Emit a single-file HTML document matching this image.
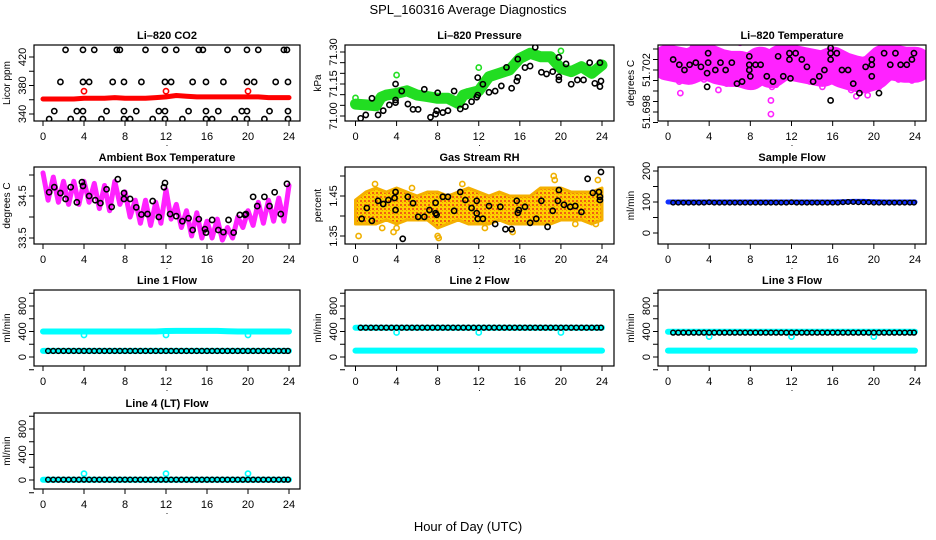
<!DOCTYPE html>
<html><head><meta charset="utf-8"><title>SPL_160316 Average Diagnostics</title>
<style>
html,body{margin:0;padding:0;background:#fff;}
svg{display:block;font-family:"Liberation Sans",Arial,sans-serif;}
</style></head>
<body>
<svg id="chart" width="936" height="540" viewBox="0 0 936 540" xmlns="http://www.w3.org/2000/svg">
<defs>
<pattern id="rhPat" width="4" height="4" patternUnits="userSpaceOnUse">
<rect width="4" height="4" fill="#ffd000"/>
<rect x="0" y="0" width="2" height="2" fill="#f06010"/>
<rect x="2" y="2" width="1" height="1" fill="#f0a000"/>
</pattern>
</defs>
<text x="468" y="14" text-anchor="middle" font-size="13">SPL_160316  Average Diagnostics</text>
<text x="468" y="531" text-anchor="middle" font-size="13">Hour of Day (UTC)</text>
</svg>
<script>
// ---------- data ----------
const xTicks=[0,4,8,12,16,20,24];
// CO2
const co2BandX=[0,1,2,3,4,5,6,7,8,9,10,11,12,13,14,15,16,17,18,19,20,21,22,23,24];
const co2BandY=[361,361,361,361,362,362,362,363,362,362,362,363,364,366,365,364,364,364,364,364,364,364,363,363,363];
const co2RedX=[4,12,20];
const co2RedY=[372,372,372];
const co2BlkX=[2.2,3.9,5,7.2,7.5,10,11.9,13,15.2,15.6,18,19.9,21,23.5,23.8,
1.7,3.9,4.5,6.8,7.9,9.6,11.9,12.5,14.6,15.9,17.6,19.9,20.6,22.7,23.9,
1.1,3.3,3.9,6.2,7.9,9.1,11.3,11.9,14.2,15.9,17.1,19.4,19.9,22.1,23.9,
0.6,2.7,3.9,5.7,7.9,8.5,10.7,11.9,13.6,15.9,16.5,18.7,19.9,21.6,23.9];
const co2BlkY=[430,430,430,430,430,430,430,430,430,430,430,430,430,430,430,
385,385,385,385,385,385,385,385,385,385,385,385,385,385,385,
344,344,344,344,344,344,344,344,344,344,344,344,344,344,344,
333,333,333,333,333,333,333,333,333,333,333,333,333,333,333];
// Pressure
const prGreenX=[0,1,2,2.5,3,4,5,6,7,8,9,10,10.5,11,12,13,14,15,16,17,18,19,20,21,22,23,24];
const prGreenY=[71.056,71.052,71.048,71.088,71.098,71.106,71.118,71.098,71.091,71.083,71.083,71.059,71.098,71.106,71.118,71.184,71.200,71.216,71.270,71.294,71.278,71.278,71.223,71.208,71.231,71.200,71.239];
const prGreenOutX=[0,4,12,20];
const prGreenOutY=[71.085,71.192,71.227,71.305];
const prBlkX=[0.5,1,1.6,2.2,2.7,3.3,3.9,3.9,3.9,4.5,5.1,5.6,6.1,6.7,7.3,7.8,7.9,8,8.5,9,9.6,10.2,10.7,11.3,11.8,11.9,11.9,12.4,13,13.6,14.2,14.7,15.2,15.7,15.8,15.8,16.5,17,17.5,18.1,18.6,19.2,19.8,19.8,19.8,20.5,21,21.6,22.2,22.8,23.3,23.8,23.9,23.8];
const prBlkY=[70.989,71.005,71.083,71.005,71.025,71.052,71.063,71.075,71.150,71.117,71.056,71.031,71.031,71.125,70.994,71.009,71.025,71.109,71.016,71.025,71.117,71.033,71.044,71.067,71.088,71.098,71.180,71.149,71.111,71.117,71.141,71.228,71.130,71.164,71.181,71.267,71.227,71.234,71.322,71.205,71.197,71.208,71.169,71.184,71.275,71.244,71.149,71.169,71.169,71.250,71.153,71.138,71.164,71.250];
// Li-820 temperature
const tmBandX=[0,1,2,3,4,5,6,7,8,9,10,11,12,13,14,15,16,17,18,19,20,21,22,23,24];
const tmBandY=[51.7027,51.7025,51.7023,51.7027,51.7027,51.7023,51.7021,51.7021,51.7018,51.7025,51.7020,51.7027,51.7027,51.7025,51.7023,51.7021,51.7025,51.7020,51.7017,51.7015,51.7018,51.7027,51.7027,51.7025,51.7025];
const tmPinkX=[0.2,1.1,1.2,2.4,3.5,4.4,4.9,5.7,7.0,8.2,8.9,9.5,10.0,10.0,10.1,10.5,12.0,13.8,14.4,15.0,16.2,17.0,17.8,18.3,19.0,19.4,20.5,22.4,23.7];
const tmPinkY=[51.7046,51.7009,51.6998,51.7041,51.7011,51.7046,51.7001,51.7007,51.7046,51.7007,51.7011,51.7015,51.6991,51.6978,51.7004,51.7006,51.7046,51.7009,51.7011,51.7004,51.7014,51.7011,51.7001,51.6995,51.7001,51.6996,51.7004,51.7011,51.7010];
const tmBlkX=[0.5,1.1,1.6,2.1,2.7,3.2,3.8,3.8,3.9,3.9,4.6,5.1,5.6,6.2,6.7,7.2,7.9,7.9,7.9,8.0,8.5,9.0,9.6,10.2,10.7,11.2,11.8,11.8,11.9,12.4,13.0,13.5,14.1,14.7,15.2,15.8,15.8,15.8,15.8,16.4,16.9,17.5,18.0,18.6,19.2,19.8,19.8,19.8,20.5,21.0,21.6,22.1,22.6,23.2,23.7,23.9];
const tmBlkY=[51.7030,51.7025,51.7020,51.7025,51.7027,51.7023,51.7017,51.7004,51.7036,51.7027,51.7020,51.7027,51.7020,51.7027,51.7007,51.7009,51.7033,51.7025,51.7020,51.7014,51.7025,51.7025,51.7014,51.7009,51.7033,51.7014,51.7036,51.7030,51.7012,51.7036,51.7030,51.7023,51.7009,51.7014,51.7020,51.7041,51.7036,51.7030,51.6991,51.7036,51.7020,51.7020,51.7007,51.6998,51.7023,51.7030,51.7025,51.7014,51.6998,51.7036,51.7025,51.7036,51.7025,51.7025,51.7030,51.7036];
// Ambient box temperature
const ambX=[0,0.5,1,1.5,2,2.5,3,3.5,4,4.5,5,5.5,6,6.5,7,7.5,8,8.5,9,9.5,10,10.5,11,11.5,12,12.5,13,13.5,14,14.5,15,15.5,16,16.5,17,17.5,18,18.5,19,19.5,20,20.5,21,21.5,22,22.5,23,23.5,24];
const ambY=[35.05,34.4,34.95,34.35,34.85,34.3,34.85,34.3,34.85,34.35,34.8,34.2,34.75,34.15,34.85,34.3,34.6,34.0,34.4,33.85,34.4,33.8,34.35,33.85,34.65,33.95,34.3,33.75,34.15,33.55,34.1,33.5,33.9,33.5,33.95,33.45,33.75,33.5,34.0,33.75,34.15,33.8,34.35,33.85,34.4,33.9,34.45,33.9,34.75];
const ambBlkX=[0.6,1.1,1.7,2.2,2.7,3.3,3.8,3.9,4.5,5.1,5.6,6.2,6.7,7.3,7.9,7.9,8.5,9.1,9.6,10.2,10.7,11.3,11.8,11.9,12.4,13.0,13.6,14.2,14.6,15.2,15.8,15.9,16.5,17.1,17.6,18.1,18.6,19.2,19.7,19.8,20.5,20.9,21.6,22.1,22.6,23.2,23.8];
const ambBlkY=[34.59,34.71,34.57,34.43,34.71,34.35,34.83,34.74,34.50,34.40,34.33,34.66,34.24,34.90,34.57,34.43,34.43,34.23,34.06,34.07,34.38,34.00,34.71,34.81,34.07,34.02,33.90,33.97,33.69,33.95,33.71,33.63,33.93,33.69,33.64,33.93,33.63,34.05,34.05,34.07,34.48,34.26,34.48,34.26,34.59,34.07,34.79];
// Gas stream RH
const rhBandX=[0,1,2,3,4,5,6,7,8,9,10,11,12,13,14,15,16,17,18,19,20,21,22,23,24];
const rhUpper=[1.44,1.46,1.47,1.46,1.47,1.46,1.45,1.46,1.46,1.45,1.46,1.47,1.46,1.45,1.46,1.45,1.45,1.45,1.47,1.47,1.47,1.46,1.46,1.46,1.47];
const rhLower=[1.38,1.38,1.38,1.39,1.38,1.39,1.39,1.39,1.37,1.38,1.39,1.38,1.38,1.38,1.39,1.38,1.38,1.38,1.38,1.38,1.39,1.39,1.39,1.38,1.39];
const rhOutX=[0.3,1.9,2.6,3.7,4.0,5.5,8.0,8.1,10.4,19.3,19.4,23.4,23.6,21.4,15.3,12.6];
const rhOutY=[1.35,1.48,1.37,1.36,1.37,1.47,1.35,1.345,1.48,1.50,1.49,1.38,1.49,1.38,1.36,1.37];
const rhBlkX=[0.6,1.1,1.6,2.2,2.7,3.2,3.8,3.9,3.9,4.6,5.1,5.6,6.1,6.7,7.2,7.8,7.8,7.9,8.5,9.0,9.6,10.2,10.7,11.3,11.8,11.8,11.9,12.4,13.0,13.6,14.1,14.6,15.2,15.7,15.8,15.9,16.5,17.0,17.6,18.1,18.7,19.2,19.7,19.8,20.3,20.9,21.4,22.0,22.6,23.1,23.7,23.8,23.8,23.9];
const rhBlkY=[1.393,1.420,1.388,1.438,1.430,1.440,1.445,1.460,1.415,1.343,1.448,1.432,1.398,1.398,1.415,1.433,1.407,1.403,1.448,1.448,1.413,1.460,1.440,1.420,1.438,1.407,1.393,1.393,1.425,1.380,1.423,1.367,1.367,1.438,1.408,1.415,1.423,1.383,1.393,1.438,1.373,1.413,1.438,1.465,1.428,1.423,1.425,1.410,1.493,1.458,1.460,1.448,1.440,1.510];
// flows
const flowBandX=[0,1,2,3,4,5,6,7,8,9,10,11,12,13,14,15,16,17,18,19,20,21,22,23,24];
const flowBlkX=[0.5,1,1.5,2,2.5,3,3.5,4,4.5,5,5.5,6,6.5,7,7.5,8,8.5,9,9.5,10,10.5,11,11.5,12,12.5,13,13.5,14,14.5,15,15.5,16,16.5,17,17.5,18,18.5,19,19.5,20,20.5,21,21.5,22,22.5,23,23.5,23.9];
const sampleBand=[100,100,100,100,100,100,100,100,100,100,100,100,100,100,100,100,100,101,102,102,101,100,100,100,100];
const sampleBlk=[98,98,98,98,98,98,98,99,98,98,98,98,98,98,98,98,98,98,98,98,98,98,98,99,98,98,98,98,98,98,98,98,98,99,100,100,99,99,99,98,98,98,98,98,98,98,98,98];
const l1Upper=[400,400,400,400,400,400,400,400,400,400,400,400,408,410,410,410,410,410,405,400,400,400,400,400,400];
const l1Lower=[95,95,95,95,95,95,95,95,95,95,95,95,95,95,95,95,95,95,95,95,95,95,95,95,95];
const l1Blk=[95,95,95,95,95,95,95,95,95,95,95,95,95,95,95,95,95,95,95,95,95,95,95,95,95,95,95,95,95,95,95,95,95,95,95,95,95,95,95,95,95,95,95,95,95,95,95,95];
const l1OutX=[4,12,20];
const l1OutY=[345,345,345];
const l2Upper=[460,460,460,460,460,460,460,460,460,460,460,460,460,460,460,460,460,460,460,460,460,460,460,460,460];
const l2Lower=[100,100,100,100,100,100,100,100,100,100,100,100,100,100,100,100,100,100,100,100,100,100,100,100,100];
const l2Blk=[460,460,460,460,460,460,460,460,460,460,460,460,460,460,460,460,460,460,460,460,460,460,460,460,460,460,460,460,460,460,460,460,460,460,460,460,460,460,460,460,460,460,460,460,460,460,460,460];
const l2OutX=[4,12,20];
const l2OutY=[385,385,385];
const l3Upper=[395,395,395,395,395,395,395,395,395,395,395,395,395,395,395,395,395,395,395,395,395,395,395,395,395];
const l3Lower=[100,100,100,100,100,100,100,100,100,100,100,100,100,100,100,100,100,100,100,100,100,100,100,100,100];
const l3Blk=[382,382,382,382,382,382,382,382,382,382,382,382,382,382,382,382,382,382,382,382,382,382,382,382,382,382,382,382,382,382,382,382,382,382,382,382,382,382,382,382,382,382,382,382,382,382,382,382];
const l3OutX=[4,12,20];
const l3OutY=[320,320,320];
const l4Band=[5,5,5,5,5,5,5,5,5,5,5,5,5,5,5,5,5,5,5,5,5,5,5,5,5];
const l4Blk=[5,5,5,5,5,5,5,5,5,5,5,5,5,5,5,5,5,5,5,5,5,5,5,5,5,5,5,5,5,5,5,5,5,5,5,5,5,5,5,5,5,5,5,5,5,5,5,5];
const l4OutX=[4,12,20];
const l4OutY=[100,100,100];

// ---------- drawing ----------
const NS="http://www.w3.org/2000/svg";
const svg=document.getElementById('chart');
function mk(tag,attrs,parent){const e=document.createElementNS(NS,tag);for(const k in attrs)e.setAttribute(k,attrs[k]);(parent||svg).appendChild(e);return e;}
let clipN=0;
function panel(o){
  const g=mk('g',{});
  
  
  const sx=h=>o.x0+(o.x24-o.x0)*h/24;
  const sy=v=>o.p1+(v-o.v1)*(o.p2-o.p1)/(o.v2-o.v1);
  clipN++;
  const cp=mk('clipPath',{id:'cp'+clipN},g);
  mk('rect',{x:o.L,y:o.T,width:o.R-o.L,height:o.B-o.T},cp);
  const plot=mk('g',{'clip-path':'url(#cp'+clipN+')'},g);
  
  
  const t=mk('text',{x:(o.L+o.R)/2,y:o.T-6,'text-anchor':'middle','font-size':'11','font-weight':'bold'},g);
  t.textContent=o.title;
  
  
  const yl=mk('text',{x:0,y:0,'text-anchor':'middle','font-size':'10',transform:`translate(${o.L-24},${(o.T+o.B)/2}) rotate(-90)`},g);
  yl.textContent=o.ylab;
  
  
  xTicks.forEach(h=>{
    mk('line',{x1:sx(h),x2:sx(h),y1:o.B,y2:o.B+5,stroke:'#000','stroke-width':1},g);
    const tl=mk('text',{x:sx(h),y:o.B+19,'text-anchor':'middle','font-size':'11'},g);
    tl.textContent=h;
    
    
  });
  const dot=mk('text',{x:(o.L+o.R)/2,y:o.B+25,'text-anchor':'middle','font-size':'9'},g);
  dot.textContent='.';
  o.ticks.forEach(v=>{
    mk('line',{x1:o.L-5,x2:o.L,y1:sy(v),y2:sy(v),stroke:'#000','stroke-width':1},g);
  });
  o.labels.forEach((v,i)=>{
    const yt=mk('text',{x:0,y:0,'text-anchor':'middle','font-size':'11',transform:`translate(${o.L-8},${sy(v)}) rotate(-90)`},g);
    yt.textContent=o.labelText?o.labelText[i]:v;
    
    
  });
  const box=mk('rect',{x:o.L,y:o.T,width:o.R-o.L,height:o.B-o.T,fill:'none',stroke:'#000','stroke-width':1.2},g);
  
  
  return {sx,sy,plot};
}
function band(P,xs,ys,w,color,name){
  const pts=xs.map((x,i)=>P.sx(x).toFixed(1)+','+P.sy(ys[i]).toFixed(1)).join(' ');
  const pl=mk('polyline',{points:pts,fill:'none',stroke:color,'stroke-width':w,'stroke-linejoin':'round','stroke-linecap':'round'},P.plot);
  
  
}
function pts(P,xs,ys,color,name,r,sw){
  xs.forEach((x,i)=>{
    const c=mk('circle',{cx:P.sx(x),cy:P.sy(ys[i]),r:r||2.6,fill:'none',stroke:color,'stroke-width':sw||1.6},P.plot);
    
    
  });
}
const C1={L:34,R:300,x0:43,x24:289}, C2={L:345,R:614,x0:355.5,x24:602}, C3={L:658,R:926,x0:668,x24:915};
const RW=[{T:45,B:121},{T:167,B:244},{T:290,B:366},{T:413,B:489}];
function cfg(c,r,extra){return Object.assign({},c,RW[r],extra);}

let P=panel(cfg(C1,0,{name:'co2-panel',title:'Li\u2013820 CO2',ylab:'Licor ppm',v1:420,p1:57,v2:340,p2:114,ticks:[340,360,380,400,420],labels:[340,380,420]}));
band(P,co2BandX,co2BandY,5,'#ff0000','co2-series');
pts(P,co2RedX,co2RedY,'#ff0000','co2-red-point');
pts(P,co2BlkX,co2BlkY,'#000','co2-calibration-point');

P=panel(cfg(C2,0,{name:'pressure-panel',title:'Li\u2013820 Pressure',ylab:'kPa',v1:71.30,p1:52,v2:71.00,p2:116,ticks:[71.00,71.05,71.10,71.15,71.20,71.25,71.30],labels:[71.00,71.15,71.30],labelText:['71.00','71.15','71.30']}));
band(P,prGreenX,prGreenY,11,'#22dd22','pressure-series');
pts(P,prGreenOutX,prGreenOutY,'#22dd22','pressure-green-point');
pts(P,prBlkX,prBlkY,'#000','pressure-hourly-point');

P=panel(cfg(C3,0,{name:'licor-temp-panel',title:'Li\u2013820 Temperature',ylab:'degrees C',v1:51.702,p1:70,v2:51.698,p2:112,ticks:[51.697,51.698,51.699,51.700,51.701,51.702,51.703,51.704],labels:[51.698,51.702],labelText:['51.698','51.702']}));
band(P,tmBandX,tmBandY,36,'#ff22ff','licor-temp-series');
pts(P,tmPinkX,tmPinkY,'#ff22ff','licor-temp-pink-point');
pts(P,tmBlkX,tmBlkY,'#000','licor-temp-hourly-point');

P=panel(cfg(C1,1,{name:'ambient-temp-panel',title:'Ambient Box Temperature',ylab:'degrees C',v1:34.5,p1:196,v2:33.5,p2:238,ticks:[33.5,34.0,34.5,35.0],labels:[33.5,34.5],labelText:['33.5','34.5']}));
band(P,ambX,ambY,5,'#ff22ff','ambient-temp-series');
pts(P,ambBlkX,ambBlkY,'#000','ambient-temp-hourly-point');

P=panel(cfg(C2,1,{name:'rh-panel',title:'Gas Stream RH',ylab:'percent',v1:1.45,p1:196,v2:1.35,p2:236,ticks:[1.35,1.40,1.45,1.50],labels:[1.35,1.45],labelText:['1.35','1.45']}));
(function(){
  const up=rhBandX.map((x,i)=>P.sx(x).toFixed(1)+','+P.sy(rhUpper[i]).toFixed(1));
  const lo=rhBandX.map((x,i)=>P.sx(x).toFixed(1)+','+P.sy(rhLower[i]).toFixed(1)).reverse();
  const pg=mk('polygon',{points:up.concat(lo).join(' '),fill:'url(#rhPat)',stroke:'#f5b000','stroke-width':3,'stroke-linejoin':'round'},P.plot);
  
  
})();
pts(P,rhOutX,rhOutY,'#f0b000','rh-outlier-point');
pts(P,rhBlkX,rhBlkY,'#000','rh-hourly-point');

P=panel(cfg(C3,1,{name:'sample-flow-panel',title:'Sample Flow',ylab:'ml/min',v1:200,p1:171,v2:0,p2:233,ticks:[0,50,100,150,200],labels:[0,100,200]}));
band(P,flowBandX,sampleBand,5,'#1030ff','sample-flow-series');
pts(P,flowBlkX,sampleBlk,'#000','sample-flow-hourly-point',2.3,1.4);

const flowTicks=[-200,0,200,400,600,800,1000];
function flowPanel(c,r,name,title){return panel(cfg(c,r,{name,title,ylab:'ml/min',v1:800,p1:RW[r].T+16,v2:0,p2:RW[r].T+67,ticks:flowTicks,labels:[0,400,800]}));}
P=flowPanel(C1,2,'line1-flow-panel','Line 1 Flow');
band(P,flowBandX,l1Upper,6,'#00ffff','line1-flow-high-series');
band(P,flowBandX,l1Lower,6,'#00ffff','line1-flow-low-series');
pts(P,l1OutX,l1OutY,'#00ffff','line1-outlier-point');
pts(P,flowBlkX,l1Blk,'#000','line1-hourly-point',2.4,1.5);
P=flowPanel(C2,2,'line2-flow-panel','Line 2 Flow');
band(P,flowBandX,l2Upper,6,'#00ffff','line2-flow-high-series');
band(P,flowBandX,l2Lower,6,'#00ffff','line2-flow-low-series');
pts(P,l2OutX,l2OutY,'#00ffff','line2-outlier-point');
pts(P,flowBlkX,l2Blk,'#000','line2-hourly-point',2.4,1.5);
P=flowPanel(C3,2,'line3-flow-panel','Line 3 Flow');
band(P,flowBandX,l3Upper,6,'#00ffff','line3-flow-high-series');
band(P,flowBandX,l3Lower,6,'#00ffff','line3-flow-low-series');
pts(P,l3OutX,l3OutY,'#00ffff','line3-outlier-point');
pts(P,flowBlkX,l3Blk,'#000','line3-hourly-point',2.4,1.5);
P=flowPanel(C1,3,'line4-flow-panel','Line 4 (LT) Flow');
band(P,flowBandX,l4Band,6,'#00ffff','line4-flow-series');
pts(P,l4OutX,l4OutY,'#00ffff','line4-outlier-point');
pts(P,flowBlkX,l4Blk,'#000','line4-hourly-point',2.4,1.5);
</script>
</body></html>
